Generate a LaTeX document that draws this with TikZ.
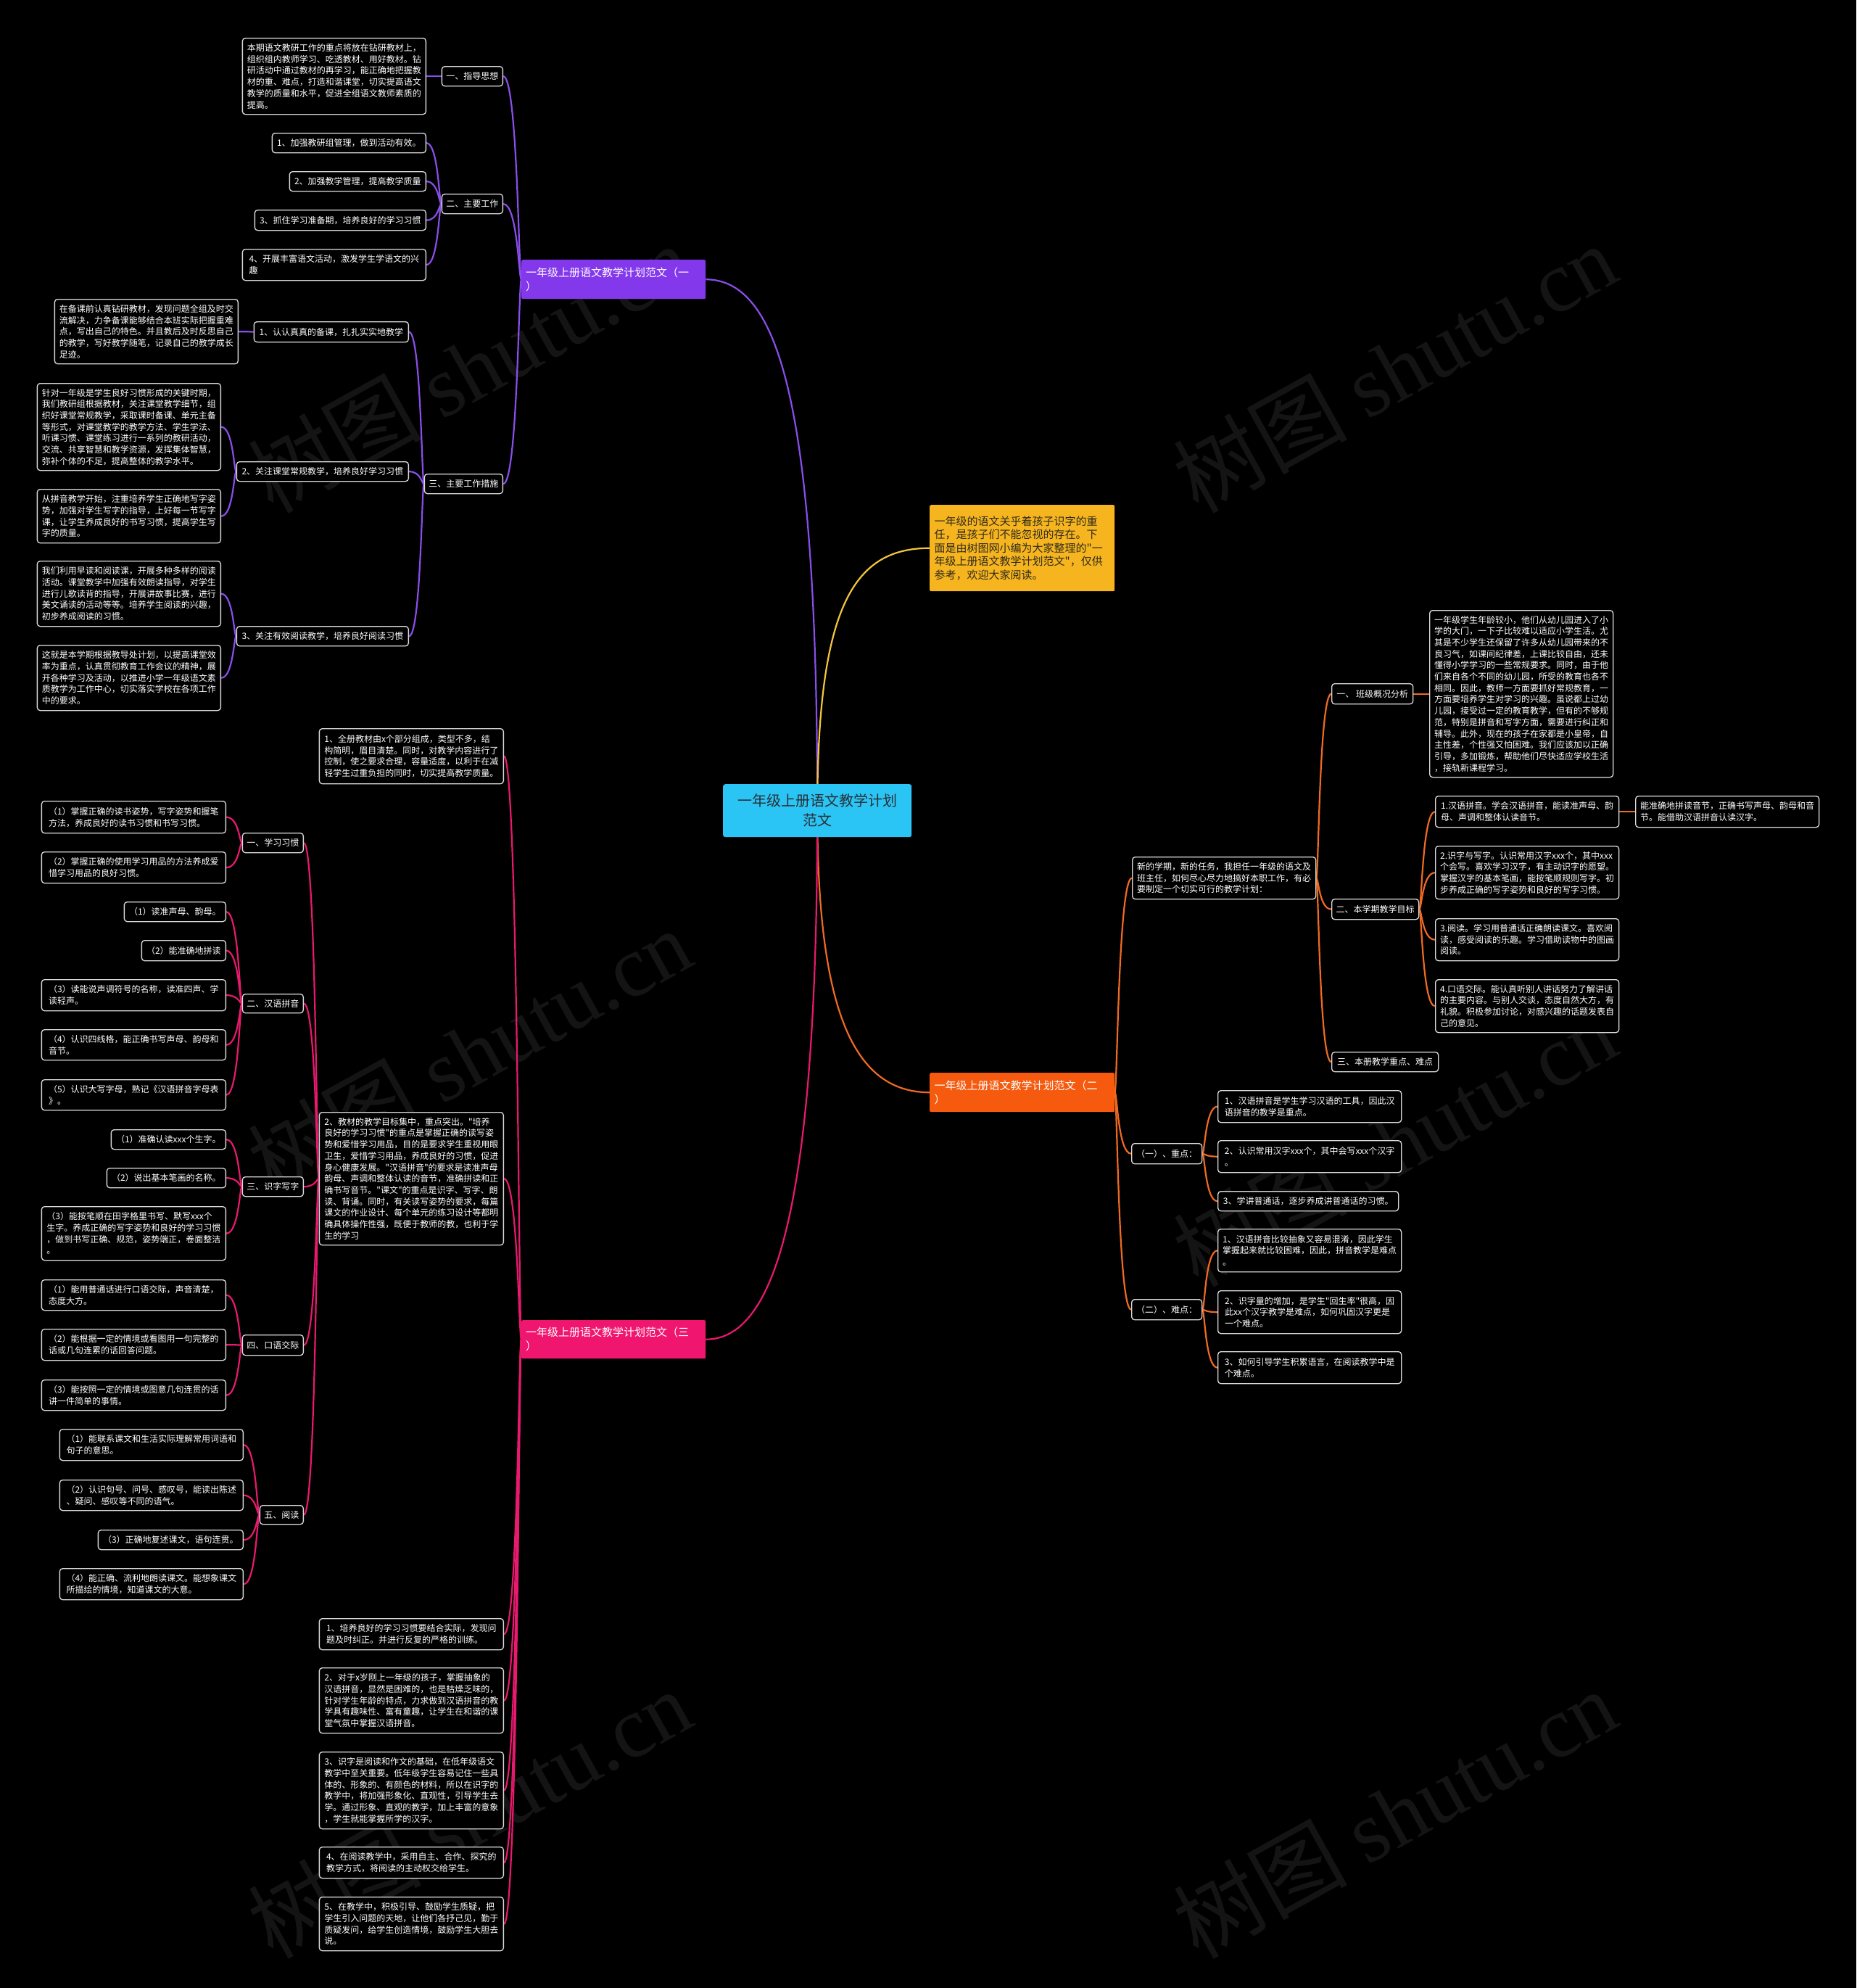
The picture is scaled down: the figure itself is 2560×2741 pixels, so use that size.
\documentclass[tikz,border=0pt]{standalone}
\usepackage{fontspec}
\setmainfont{Noto Sans CJK SC}[Ligatures=TeXOff]
\newfontfamily\wmlat{Liberation Serif}
\usetikzlibrary{calc}
\pgfdeclarelayer{back}
\pgfdeclarelayer{bg}
\pgfsetlayers{back,bg,main}
\definecolor{mmpurp}{HTML}{8338EC}
\definecolor{mmplin}{HTML}{8A4EEA}
\definecolor{mmpink}{HTML}{F0156E}
\definecolor{mmklin}{HTML}{E8196E}
\definecolor{mmora}{HTML}{F55A0F}
\definecolor{mmolin}{HTML}{F06A22}
\definecolor{mmyel}{HTML}{F6B51E}
\definecolor{mmylin}{HTML}{F5C53C}
\definecolor{mmcyan}{HTML}{2BC5F5}
\definecolor{mmctxt}{HTML}{2A2F36}
\definecolor{mmitxt}{HTML}{2E2A1E}
\definecolor{mmbox}{HTML}{DADADA}
\definecolor{mmwm}{HTML}{141414}
\newcommand\fs{\fontsize{12}{15.7}\selectfont}
\tikzset{
  bx/.style={draw=mmbox, fill=black, text=white, rounded corners=4pt, line width=1.3pt, font=\fs, align=left, inner xsep=5pt, inner ysep=2pt},
  brn/.style={anchor=north west, minimum width=254pt, minimum height=54pt, text width=242pt, align=left, inner xsep=6pt, inner ysep=2pt, text=white, font=\fontsize{15}{19}\selectfont, rounded corners=2pt},
  ln/.style={line width=2.2pt},
  wm/.style={rotate=29, text=mmwm, font=\fontsize{120}{120}\selectfont},
}
\newcommand\BL[5]{\node[bx,anchor=north east,minimum width=#3pt,minimum height=#4pt] (#1) at (#2) {#5};}
\newcommand\BR[5]{\node[bx,anchor=north west,minimum width=#3pt,minimum height=#4pt] (#1) at (#2) {#5};}
% child on the left, parent on the right
\newcommand\Lk[3]{\draw[ln,#3] let \p1=(#1.east), \p2=(#2.west), \n1={\x2-\x1} in (\p1) .. controls +(0.8*\n1,0) and +(-0.15*\n1,0) .. (\p2);}
% parent on the left, child on the right
\newcommand\Rk[3]{\draw[ln,#3] let \p1=(#1.east), \p2=(#2.west), \n1={\x2-\x1} in (\p1) .. controls +(0.15*\n1,0) and +(-0.8*\n1,0) .. (\p2);}
\begin{document}
\begin{tikzpicture}[x=1pt,y=-1pt]
\useasboundingbox (0,0) rectangle (2560,2741);
\begin{pgfonlayer}{back}
\fill[black] (0,0) rectangle (2560,2741);
\node[wm] (wm1) at (647,507) {树图 {\wmlat shutu.cn}};
\node[wm] (wm2) at (1923,507) {树图 {\wmlat shutu.cn}};
\node[wm] (wm3) at (647,1451) {树图 {\wmlat shutu.cn}};
\node[wm] (wm4) at (1923,1574) {树图 {\wmlat shutu.cn}};
\node[wm] (wm5) at (647,2500) {树图 {\wmlat shutu.cn}};
\node[wm] (wm6) at (1923,2500) {树图 {\wmlat shutu.cn}};
\end{pgfonlayer}

% ---------- centre, intro, branches
\node[anchor=north west, fill=mmcyan, rounded corners=3pt, minimum width=260pt, minimum height=73pt, align=center, text=mmctxt, font=\fontsize{20}{27}\selectfont, inner sep=2pt] (ctr) at (997,1081) {一年级上册语文教学计划\\范文};
\node[brn, fill=mmpurp] (p1) at (719,358) {一年级上册语文教学计划范文（一\\）};
\node[brn, fill=mmora, minimum width=255pt] (o) at (1282,1479) {一年级上册语文教学计划范文（二\\）};
\node[brn, fill=mmpink, minimum height=53pt] (k) at (719,1820) {一年级上册语文教学计划范文（三\\）};
\node[brn, fill=mmyel, text=mmitxt, minimum width=255pt, minimum height=119pt, font=\fontsize{15}{18.5}\selectfont] (intro) at (1282,696) {一年级的语文关乎着孩子识字的重\\任，是孩子们不能忽视的存在。下\\面是由树图网小编为大家整理的"一\\年级上册语文教学计划范文"，仅供\\参考，欢迎大家阅读。};

% ---------- purple branch
\BL{pA}{694,91}{84}{27}{一、指导思想}
\BL{pAt}{588,52}{253}{105}{本期语文教研工作的重点将放在钻研教材上，\\组织组内教师学习、吃透教材、用好教材。钻\\研活动中通过教材的再学习，能正确地把握教\\材的重、难点，打造和谐课堂，切实提高语文\\教学的质量和水平，促进全组语文教师素质的\\提高。}
\BL{pB}{694,267}{84}{27}{二、主要工作}
\BL{pB1}{588,183}{212}{27}{1、加强教研组管理，做到活动有效。}
\BL{pB2}{588,236}{188}{27}{2、加强教学管理，提高教学质量}
\BL{pB3}{588,289}{236}{28}{3、抓住学习准备期，培养良好的学习习惯}
\BL{pB4}{588,343}{253}{43}{4、开展丰富语文活动，激发学生学语文的兴\\趣}
\BL{pC}{694,653}{108}{27}{三、主要工作措施}
\BL{pC1}{564,443}{213}{28}{1、认认真真的备课，扎扎实实地教学}
\BL{pC1t}{329,412}{253}{89}{在备课前认真钻研教材，发现问题全组及时交\\流解决，力争备课能够结合本班实际把握重难\\点，写出自己的特色。并且教后及时反思自己\\的教学，写好教学随笔，记录自己的教学成长\\足迹。}
\BL{pC2}{564,636}{237}{27}{2、关注课堂常规教学，培养良好学习习惯}
\BL{pC2a}{305,528}{253}{120}{针对一年级是学生良好习惯形成的关键时期，\\我们教研组根据教材，关注课堂教学细节，组\\织好课堂常规教学，采取课时备课、单元主备\\等形式，对课堂教学的教学方法、学生学法、\\听课习惯、课堂练习进行一系列的教研活动，\\交流、共享智慧和教学资源，发挥集体智慧，\\弥补个体的不足，提高整体的教学水平。}
\BL{pC2b}{305,674}{253}{74}{从拼音教学开始，注重培养学生正确地写字姿\\势，加强对学生写字的指导，上好每一节写字\\课，让学生养成良好的书写习惯，提高学生写\\字的质量。}
\BL{pC3}{564,863}{237}{27}{3、关注有效阅读教学，培养良好阅读习惯}
\BL{pC3a}{305,773}{253}{90}{我们利用早读和阅读课，开展多种多样的阅读\\活动。课堂教学中加强有效朗读指导，对学生\\进行儿歌读背的指导，开展讲故事比赛，进行\\美文诵读的活动等等。培养学生阅读的兴趣，\\初步养成阅读的习惯。}
\BL{pC3b}{305,889}{253}{90}{这就是本学期根据教导处计划，以提高课堂效\\率为重点，认真贯彻教育工作会议的精神，展\\开各种学习及活动，以推进小学一年级语文素\\质教学为工作中心，切实落实学校在各项工作\\中的要求。}

% ---------- pink branch
\BL{kA}{695,1004}{254}{76}{1、全册教材由x个部分组成，类型不多，结\\构简明，眉目清楚。同时，对教学内容进行了\\控制，使之要求合理，容量适度，以利于在减\\轻学生过重负担的同时，切实提高教学质量。}
\BL{kB}{695,1533}{254}{183}{2、教材的教学目标集中，重点突出。"培养\\良好的学习习惯"的重点是掌握正确的读写姿\\势和爱惜学习用品，目的是要求学生重视用眼\\卫生，爱惜学习用品，养成良好的习惯，促进\\身心健康发展。"汉语拼音"的要求是读准声母\\韵母、声调和整体认读的音节，准确拼读和正\\确书写音节。"课文"的重点是识字、写字、朗\\读、背诵。同时，有关读写姿势的要求，每篇\\课文的作业设计、每个单元的练习设计等都明\\确具体操作性强，既便于教师的教，也利于学\\生的学习}
\BL{kC}{695,2231}{254}{43}{1、培养良好的学习习惯要结合实际，发现问\\题及时纠正。并进行反复的严格的训练。}
\BL{kD}{695,2299}{254}{90}{2、对于x岁刚上一年级的孩子，掌握抽象的\\汉语拼音，显然是困难的，也是枯燥乏味的，\\针对学生年龄的特点，力求做到汉语拼音的教\\学具有趣味性、富有童趣，让学生在和谐的课\\堂气氛中掌握汉语拼音。}
\BL{kE}{695,2415}{254}{106}{3、识字是阅读和作文的基础，在低年级语文\\教学中至关重要。低年级学生容易记住一些具\\体的、形象的、有颜色的材料，所以在识字的\\教学中，将加强形象化、直观性，引导学生去\\学。通过形象、直观的教学，加上丰富的意象\\，学生就能掌握所学的汉字。}
\BL{kF}{695,2546}{254}{43}{4、在阅读教学中，采用自主、合作、探究的\\教学方式，将阅读的主动权交给学生。}
\BL{kG}{695,2615}{254}{74}{5、在教学中，积极引导、鼓励学生质疑，把\\学生引入问题的天地，让他们各抒己见，勤于\\质疑发问，给学生创造情境，鼓励学生大胆去\\说。}
\BL{kB1}{419,1148}{84}{27}{一、学习习惯}
\BL{kB1a}{312,1104}{254}{44}{（1）掌握正确的读书姿势，写字姿势和握笔\\方法，养成良好的读书习惯和书写习惯。}
\BL{kB1b}{312,1174}{254}{43}{（2）掌握正确的使用学习用品的方法养成爱\\惜学习用品的良好习惯。}
\BL{kB2}{419,1370}{84}{26}{二、汉语拼音}
\BL{kB2a}{312,1243}{140}{27}{（1）读准声母、韵母。}
\BL{kB2b}{312,1296}{116}{28}{（2）能准确地拼读}
\BL{kB2c}{312,1350}{254}{43}{（3）读能说声调符号的名称，读准四声、学\\读轻声。}
\BL{kB2d}{312,1419}{254}{42}{（4）认识四线格，能正确书写声母、韵母和\\音节。}
\BL{kB2e}{312,1488}{254}{42}{（5）认识大写字母，熟记《汉语拼音字母表\\》。}
\BL{kB3}{419,1622}{84}{27}{三、识字写字}
\BL{kB3a}{312,1557}{158}{27}{（1）准确认读xxx个生字。}
\BL{kB3b}{312,1610}{164}{27}{（2）说出基本笔画的名称。}
\BL{kB3c}{312,1663}{254}{74}{（3）能按笔顺在田字格里书写、默写xxx个\\生字。养成正确的写字姿势和良好的学习习惯\\，做到书写正确、规范，姿势端正，卷面整洁\\。}
\BL{kB4}{419,1840}{84}{28}{四、口语交际}
\BL{kB4a}{312,1764}{254}{42}{（1）能用普通话进行口语交际，声音清楚，\\态度大方。}
\BL{kB4b}{312,1832}{254}{43}{（2）能根据一定的情境或看图用一句完整的\\话或几句连累的话回答问题。}
\BL{kB4c}{312,1902}{254}{42}{（3）能按照一定的情境或图意几句连贯的话\\讲一件简单的事情。}
\BL{kB5}{419,2075}{60}{26}{五、阅读}
\BL{kB5a}{336,1970}{253}{43}{（1）能联系课文和生活实际理解常用词语和\\句子的意思。}
\BL{kB5b}{336,2040}{253}{42}{（2）认识句号、问号、感叹号，能读出陈述\\、疑问、感叹等不同的语气。}
\BL{kB5c}{336,2109}{200}{27}{（3）正确地复述课文，语句连贯。}
\BL{kB5d}{336,2162}{253}{43}{（4）能正确、流利地朗读课文。能想象课文\\所描绘的情境，知道课文的大意。}

% ---------- orange branch
\BR{oA}{1561,1181}{253}{58}{新的学期，新的任务，我担任一年级的语文及\\班主任，如何尽心尽力地搞好本职工作，有必\\要制定一个切实可行的教学计划：}
\BR{oA1}{1836,942}{112}{28}{一、 班级概况分析}
\BR{oA1t}{1971,841}{253}{230}{一年级学生年龄较小，他们从幼儿园进入了小\\学的大门，一下子比较难以适应小学生活。尤\\其是不少学生还保留了许多从幼儿园带来的不\\良习气，如课间纪律差，上课比较自由，还未\\懂得小学学习的一些常规要求。同时，由于他\\们来自各个不同的幼儿园，所受的教育也各不\\相同。因此，教师一方面要抓好常规教育，一\\方面要培养学生对学习的兴趣。虽说都上过幼\\儿园，接受过一定的教育教学，但有的不够规\\范，特别是拼音和写字方面，需要进行纠正和\\辅导。此外，现在的孩子在家都是小皇帝，自\\主性差，个性强又怕困难。我们应该加以正确\\引导，多加锻炼，帮助他们尽快适应学校生活\\，接轨新课程学习。}
\BR{oA2}{1836,1239}{120}{28}{二、本学期教学目标}
\BR{oA2a}{1979,1097}{253}{43}{1.汉语拼音。学会汉语拼音，能读准声母、韵\\母、声调和整体认读音节。}
\BR{oA2a1}{2255,1097}{253}{43}{能准确地拼读音节，正确书写声母、韵母和音\\节。能借助汉语拼音认读汉字。}
\BR{oA2b}{1979,1166}{253}{73}{2.识字与写字。认识常用汉字xxx个，其中xxx\\个会写。喜欢学习汉字，有主动识字的愿望。\\掌握汉字的基本笔画，能按笔顺规则写字。初\\步养成正确的写字姿势和良好的写字习惯。}
\BR{oA2c}{1979,1266}{253}{58}{3.阅读。学习用普通话正确朗读课文。喜欢阅\\读，感受阅读的乐趣。学习借助读物中的图画\\阅读。}
\BR{oA2d}{1979,1350}{253}{73}{4.口语交际。能认真听别人讲话努力了解讲话\\的主要内容。与别人交谈，态度自然大方，有\\礼貌。积极参加讨论，对感兴趣的话题发表自\\己的意见。}
\BR{oA3}{1836,1450}{147}{27}{三、本册教学重点、难点}
\BR{oB}{1560,1576}{97}{28}{（一）、重点：}
\BR{oB1}{1679,1503}{253}{44}{1、汉语拼音是学生学习汉语的工具，因此汉\\语拼音的教学是重点。}
\BR{oB2}{1679,1572}{253}{44}{2、认识常用汉字xxx个，其中会写xxx个汉字\\。}
\BR{oB3}{1679,1642}{249}{27}{3、学讲普通话，逐步养成讲普通话的习惯。}
\BR{oC}{1560,1791}{97}{28}{（二）、难点：}
\BR{oC1}{1679,1694}{253}{59}{1、汉语拼音比较抽象又容易混淆，因此学生\\掌握起来就比较困难，因此，拼音教学是难点\\。}
\BR{oC2}{1679,1779}{253}{59}{2、识字量的增加，是学生"回生率"很高，因\\此xx个汉字教学是难点，如何巩固汉字更是\\一个难点。}
\BR{oC3}{1679,1863}{253}{44}{3、如何引导学生积累语言，在阅读教学中是\\个难点。}

% ---------- connectors
\begin{pgfonlayer}{bg}
\draw[ln,mmplin] (ctr.center) .. controls (1127,560) and (1075,386) .. (p1.east);
\draw[ln,mmylin] (ctr.center) .. controls (1127,830) and (1180,756) .. (intro.west);
\draw[ln,mmolin] (ctr.center) .. controls (1127,1400) and (1180,1506) .. (o.west);
\draw[ln,mmklin] (ctr.center) .. controls (1127,1640) and (1075,1847) .. (k.east);

\Lk{pA}{p1}{mmplin}
\Lk{pB}{p1}{mmplin}
\Lk{pC}{p1}{mmplin}
\Lk{pAt}{pA}{mmplin}
\Lk{pB1}{pB}{mmplin}
\Lk{pB2}{pB}{mmplin}
\Lk{pB3}{pB}{mmplin}
\Lk{pB4}{pB}{mmplin}
\Lk{pC1}{pC}{mmplin}
\Lk{pC2}{pC}{mmplin}
\Lk{pC3}{pC}{mmplin}
\Lk{pC1t}{pC1}{mmplin}
\Lk{pC2a}{pC2}{mmplin}
\Lk{pC2b}{pC2}{mmplin}
\Lk{pC3a}{pC3}{mmplin}
\Lk{pC3b}{pC3}{mmplin}

\Lk{kA}{k}{mmklin}
\Lk{kB}{k}{mmklin}
\Lk{kC}{k}{mmklin}
\Lk{kD}{k}{mmklin}
\Lk{kE}{k}{mmklin}
\Lk{kF}{k}{mmklin}
\Lk{kG}{k}{mmklin}
\Lk{kB1}{kB}{mmklin}
\Lk{kB2}{kB}{mmklin}
\Lk{kB3}{kB}{mmklin}
\Lk{kB4}{kB}{mmklin}
\Lk{kB5}{kB}{mmklin}
\Lk{kB1a}{kB1}{mmklin}
\Lk{kB1b}{kB1}{mmklin}
\Lk{kB2a}{kB2}{mmklin}
\Lk{kB2b}{kB2}{mmklin}
\Lk{kB2c}{kB2}{mmklin}
\Lk{kB2d}{kB2}{mmklin}
\Lk{kB2e}{kB2}{mmklin}
\Lk{kB3a}{kB3}{mmklin}
\Lk{kB3b}{kB3}{mmklin}
\Lk{kB3c}{kB3}{mmklin}
\Lk{kB4a}{kB4}{mmklin}
\Lk{kB4b}{kB4}{mmklin}
\Lk{kB4c}{kB4}{mmklin}
\Lk{kB5a}{kB5}{mmklin}
\Lk{kB5b}{kB5}{mmklin}
\Lk{kB5c}{kB5}{mmklin}
\Lk{kB5d}{kB5}{mmklin}

\Rk{o}{oA}{mmolin}
\Rk{o}{oB}{mmolin}
\Rk{o}{oC}{mmolin}
\Rk{oA}{oA1}{mmolin}
\Rk{oA}{oA2}{mmolin}
\Rk{oA}{oA3}{mmolin}
\Rk{oA1}{oA1t}{mmolin}
\Rk{oA2}{oA2a}{mmolin}
\Rk{oA2}{oA2b}{mmolin}
\Rk{oA2}{oA2c}{mmolin}
\Rk{oA2}{oA2d}{mmolin}
\Rk{oA2a}{oA2a1}{mmolin}
\Rk{oB}{oB1}{mmolin}
\Rk{oB}{oB2}{mmolin}
\Rk{oB}{oB3}{mmolin}
\Rk{oC}{oC1}{mmolin}
\Rk{oC}{oC2}{mmolin}
\Rk{oC}{oC3}{mmolin}
\end{pgfonlayer}
\end{tikzpicture}
\end{document}
